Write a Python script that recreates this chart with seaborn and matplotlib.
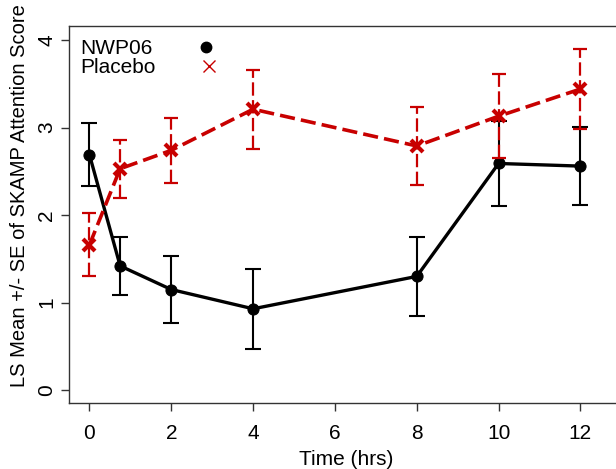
import numpy as np
import pandas as pd
import matplotlib
matplotlib.use("Agg")
import matplotlib.pyplot as plt
from matplotlib.lines import Line2D
import seaborn as sns

# LS means and standard errors of the SKAMP attention score by time point
time_hrs = [0, 0.75, 2, 4, 8, 10, 12]
nwp06_mean = [2.69, 1.42, 1.15, 0.93, 1.30, 2.59, 2.56]
nwp06_se = [0.36, 0.33, 0.38, 0.46, 0.45, 0.49, 0.45]
placebo_mean = [1.66, 2.53, 2.74, 3.21, 2.79, 3.13, 3.44]
placebo_se = [0.36, 0.33, 0.37, 0.45, 0.45, 0.48, 0.46]
groups = ["NWP06", "Placebo"]
x_ticks = [0, 2, 4, 6, 8, 10, 12]
y_ticks = [0, 1, 2, 3, 4]

RED = "#C80000"

df = pd.concat([
    pd.DataFrame({"time": time_hrs, "mean": nwp06_mean, "se": nwp06_se, "group": groups[0]}),
    pd.DataFrame({"time": time_hrs, "mean": placebo_mean, "se": placebo_se, "group": groups[1]}),
], ignore_index=True)

sns.set_theme(style="white")
plt.rcParams["font.family"] = ["Liberation Sans", "DejaVu Sans"]
plt.rcParams["font.size"] = 15
plt.rcParams["text.color"] = "black"
plt.rcParams["axes.labelcolor"] = "black"
plt.rcParams["xtick.color"] = "black"
plt.rcParams["ytick.color"] = "black"

fig = plt.figure(figsize=(6.16, 4.69), dpi=100)
ax = fig.add_axes([0.112, 0.140, 0.900, 0.8045])

nwp = df[df["group"] == groups[0]]
pla = df[df["group"] == groups[1]]

# NWP06: solid black line with filled circles
ax.errorbar(nwp["time"], nwp["mean"], yerr=nwp["se"], fmt="none",
            ecolor="black", elinewidth=1.5, capsize=6, capthick=1.5, zorder=2)
sns.lineplot(data=nwp, x="time", y="mean", color="black", linewidth=2.4,
             marker="o", markersize=8, markeredgecolor="black",
             ax=ax, zorder=3, legend=False)

# Placebo: dashed red line with crosses
eb = ax.errorbar(pla["time"], pla["mean"], yerr=pla["se"], fmt="none",
                 ecolor=RED, elinewidth=1.6, capsize=5, capthick=1.6, zorder=4)
eb.lines[2][0].set_linestyle((0, (6, 2)))
sns.lineplot(data=pla, x="time", y="mean", color=RED, linewidth=2.6,
             marker="x", markersize=9, markeredgewidth=3,
             markeredgecolor=RED, ax=ax, zorder=5, legend=False)
ax.lines[-1].set_dashes((4.2, 1.7))

ax.set_xlim(-0.5, 13.05)
ax.set_ylim(-0.15, 4.16)
ax.set_xticks(x_ticks)
ax.set_yticks(y_ticks)
ax.set_xticklabels([str(t) for t in x_ticks])
ax.set_yticklabels([str(t) for t in y_ticks], rotation=90, va="center")
ax.tick_params(axis="both", direction="out", length=6, width=1, color="#333333",
               labelsize=15, labelcolor="black", bottom=True, left=True)
ax.tick_params(axis="x", pad=9)
ax.tick_params(axis="y", pad=3)

for side, sp in ax.spines.items():
    sp.set_visible(True)
    sp.set_color("#333333")
    sp.set_linewidth(1.0)

ax.set_xlabel("Time (hrs)", fontsize=15, labelpad=5, color="black")
ax.set_ylabel("LS Mean +/- SE of SKAMP Attention Score", fontsize=14.5,
              color="black")
ax.yaxis.set_label_coords(-0.072, 0.552)
ax.grid(False)

handles = [
    Line2D([], [], linestyle="none", marker="o", color="black", markersize=7.5),
    Line2D([], [], linestyle="none", marker="x", color=RED, markersize=8,
           markeredgewidth=1),
]
leg = ax.legend(handles, groups, loc="upper left", bbox_to_anchor=(0.130, 0.917),
                bbox_transform=fig.transFigure, frameon=False, markerfirst=False,
                handletextpad=1.55, handlelength=2.0, labelspacing=0.0,
                borderaxespad=0, borderpad=0, fontsize=15)
# keep the legend labels flush left
for col in leg._legend_handle_box.get_children():
    col.align = "left"

fig.savefig("out.png", dpi=100)
